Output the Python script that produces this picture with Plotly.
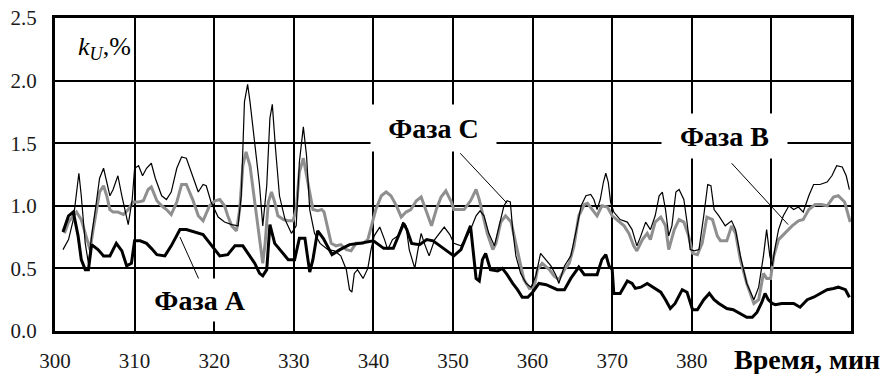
import plotly.graph_objects as go

# Time axis (minutes) and voltage unbalance factor k_U (%) for each phase
t_a = [301.0, 301.7, 302.3, 302.9, 303.3, 303.8, 304.2, 304.6, 305.4, 306.1, 306.9, 307.7, 308.4, 309.0,
       309.6, 310.0, 310.7, 311.5, 312.1, 312.8, 313.8, 314.6, 315.7, 316.5, 318.6, 320.1, 320.7, 321.7,
       322.6, 323.6, 324.5, 325.1, 325.7, 326.1, 326.6, 327.0, 327.6, 328.4, 329.3, 330.1, 330.7, 331.4,
       332.0, 332.4, 333.0, 333.7, 334.8, 335.8, 337.0, 338.3, 340.0, 341.3, 342.5, 343.8, 344.2, 344.8,
       345.8, 346.7, 347.5, 348.8, 350.1, 351.0, 351.8, 352.2, 352.9, 353.3, 353.7, 354.1, 354.7, 355.6,
       356.2, 356.8, 357.5, 358.1, 358.7, 359.4, 360.0, 360.8, 361.7, 362.5, 363.1, 364.0, 364.8, 365.8,
       366.5, 367.3, 368.1, 368.7, 369.2, 369.6, 370.0, 370.2, 371.0, 371.9, 372.5, 372.9, 373.6, 374.4,
       375.2, 376.1, 376.7, 377.3, 377.9, 378.8, 379.4, 380.1, 380.7, 381.5, 382.2, 382.8, 383.4, 384.4,
       385.2, 386.1, 386.9, 387.6, 388.2, 388.8, 389.2, 389.6, 390.1, 390.5, 391.3, 392.0, 392.8, 393.6,
       394.5, 395.3, 396.1, 397.0, 397.8, 398.4, 399.3, 399.8]
k_a = [0.79, 0.92, 0.95, 0.76, 0.57, 0.49, 0.49, 0.69, 0.65, 0.60, 0.60, 0.70, 0.64, 0.52,
       0.54, 0.72, 0.72, 0.70, 0.66, 0.61, 0.60, 0.68, 0.81, 0.81, 0.77, 0.65, 0.60, 0.61,
       0.68, 0.68, 0.60, 0.54, 0.46, 0.44, 0.49, 0.85, 0.70, 0.64, 0.57, 0.57, 0.74, 0.74,
       0.47, 0.57, 0.80, 0.74, 0.61, 0.65, 0.69, 0.70, 0.72, 0.66, 0.66, 0.86, 0.81, 0.70,
       0.69, 0.73, 0.72, 0.66, 0.60, 0.65, 0.78, 0.84, 0.42, 0.40, 0.57, 0.62, 0.49, 0.48,
       0.50, 0.45, 0.38, 0.33, 0.27, 0.27, 0.31, 0.38, 0.37, 0.35, 0.33, 0.33, 0.42, 0.51,
       0.45, 0.45, 0.45, 0.57, 0.61, 0.52, 0.49, 0.30, 0.30, 0.40, 0.38, 0.34, 0.35, 0.38,
       0.35, 0.31, 0.25, 0.18, 0.22, 0.33, 0.31, 0.17, 0.17, 0.25, 0.30, 0.25, 0.22, 0.18,
       0.17, 0.14, 0.11, 0.11, 0.15, 0.23, 0.30, 0.25, 0.22, 0.21, 0.22, 0.22, 0.22, 0.19,
       0.25, 0.27, 0.30, 0.33, 0.34, 0.35, 0.33, 0.27]

t_b = [301.2, 301.7, 302.3, 302.7, 303.3, 304.0, 304.4, 304.8, 305.2, 305.6, 306.1, 306.5, 306.9, 307.3,
       307.9, 308.6, 309.2, 309.8, 310.5, 311.1, 311.7, 312.1, 312.8, 313.4, 314.0, 314.6, 315.3, 315.9,
       316.5, 317.3, 318.0, 318.6, 319.4, 320.1, 320.7, 321.3, 321.7, 322.2, 322.8, 323.2, 323.6, 324.0,
       324.5, 325.1, 325.7, 326.1, 326.4, 326.8, 327.2, 327.6, 328.0, 328.7, 329.3, 329.9, 330.3, 330.7,
       331.2, 331.6, 332.0, 332.4, 333.0, 333.5, 333.8, 334.3, 334.7, 335.3, 335.9, 336.6, 337.2, 337.8,
       338.7, 339.3, 339.9, 340.3, 341.0, 341.6, 342.2, 342.9, 343.5, 344.1, 344.7, 345.4, 346.0, 346.6,
       347.3, 347.9, 348.5, 349.1, 349.8, 350.1, 351.4, 352.2, 352.9, 353.3, 353.7, 354.3, 355.0, 355.4,
       356.0, 356.6, 357.3, 357.7, 358.3, 358.9, 359.6, 360.2, 360.6, 361.2, 362.1, 362.7, 363.3, 364.0,
       364.6, 365.2, 365.8, 366.5, 366.9, 367.5, 368.1, 368.7, 369.4, 370.0, 370.6, 371.5, 372.1, 372.7,
       373.1, 373.8, 374.4, 374.8, 375.4, 376.1, 376.7, 377.1, 377.8, 378.4, 379.0, 379.6, 380.1, 380.7,
       381.3, 381.9, 382.6, 383.2, 383.6, 384.4, 385.0, 385.5, 386.1, 386.9, 387.8, 388.4, 389.0, 389.4,
       389.9, 390.3, 390.9, 391.7, 392.6, 393.4, 394.0, 394.7, 395.5, 396.3, 397.0, 397.8, 398.4, 399.2,
       399.7, 399.9]
k_b = [0.78, 0.87, 0.92, 0.95, 0.89, 0.73, 0.65, 0.81, 0.97, 1.11, 1.16, 1.08, 0.97, 0.95,
       0.95, 0.93, 0.97, 1.03, 1.03, 1.04, 1.13, 1.15, 1.04, 1.00, 0.97, 0.93, 1.03, 1.17,
       1.17, 1.05, 0.92, 0.88, 1.00, 1.04, 1.05, 1.00, 0.92, 0.84, 0.80, 0.97, 1.32, 1.43,
       1.32, 1.03, 0.76, 0.54, 0.70, 1.03, 1.11, 1.03, 0.92, 0.89, 0.88, 0.88, 0.97, 1.27,
       1.38, 1.24, 1.08, 0.97, 0.96, 0.97, 0.95, 0.81, 0.70, 0.68, 0.69, 0.65, 0.64, 0.70,
       0.70, 0.73, 0.87, 0.97, 1.08, 1.11, 1.08, 1.00, 0.91, 0.95, 0.97, 1.04, 1.07, 0.97,
       0.84, 0.97, 1.07, 1.12, 1.03, 0.97, 0.97, 1.04, 1.13, 1.05, 0.95, 0.78, 0.65, 0.70,
       0.87, 0.92, 0.87, 0.76, 0.57, 0.41, 0.34, 0.35, 0.49, 0.54, 0.49, 0.44, 0.41, 0.49,
       0.54, 0.68, 0.92, 1.01, 1.02, 0.97, 0.92, 1.00, 0.99, 0.92, 0.89, 0.84, 0.78, 0.68,
       0.64, 0.73, 0.78, 0.73, 0.87, 0.91, 0.84, 0.65, 0.81, 0.89, 0.87, 0.76, 0.62, 0.61,
       0.70, 0.91, 0.89, 0.76, 0.72, 0.72, 0.84, 0.78, 0.57, 0.38, 0.22, 0.25, 0.46, 0.42,
       0.42, 0.60, 0.73, 0.78, 0.84, 0.88, 0.89, 0.97, 1.01, 1.01, 1.00, 1.07, 1.08, 1.03,
       0.92, 0.87]

t_c = [301.0, 301.7, 302.3, 302.7, 303.0, 303.3, 303.8, 304.2, 304.6, 305.2, 305.6, 306.1, 306.5, 306.9,
       307.3, 307.9, 308.4, 308.8, 309.2, 309.7, 310.0, 310.5, 311.0, 311.5, 312.1, 312.6, 313.4, 314.0,
       314.6, 315.3, 315.9, 316.5, 317.3, 318.0, 318.6, 319.0, 319.6, 320.5, 321.3, 322.2, 323.0, 323.4,
       323.8, 324.2, 324.5, 325.1, 325.7, 326.1, 326.6, 327.0, 327.3, 327.7, 328.2, 328.9, 329.7, 330.3,
       330.7, 331.2, 331.6, 332.0, 332.6, 333.3, 334.3, 335.1, 335.9, 336.6, 337.0, 337.3, 337.6, 338.0,
       338.7, 339.3, 339.7, 340.1, 340.8, 341.4, 341.8, 342.4, 343.1, 343.7, 344.1, 344.5, 345.2, 345.6,
       346.0, 346.4, 347.0, 347.7, 348.3, 348.9, 349.6, 350.1, 351.0, 351.8, 352.4, 352.9, 353.4, 353.9,
       354.5, 355.2, 355.8, 356.4, 356.8, 357.2, 357.5, 357.9, 358.5, 359.2, 359.8, 360.4, 361.0, 361.7,
       362.3, 362.9, 363.3, 364.0, 364.8, 365.4, 366.1, 366.7, 367.3, 367.7, 368.1, 368.5, 368.9, 369.2,
       369.5, 369.8, 370.2, 371.0, 371.9, 372.5, 373.1, 373.6, 374.2, 374.8, 375.4, 375.9, 376.3, 376.7,
       377.1, 377.5, 378.0, 378.4, 379.0, 379.4, 379.8, 380.3, 380.9, 381.5, 382.0, 382.4, 382.8, 383.4,
       384.2, 385.0, 385.5, 386.1, 386.9, 387.8, 388.4, 389.0, 389.4, 389.8, 390.1, 390.5, 390.9, 391.5,
       392.2, 392.8, 393.4, 394.0, 394.7, 395.3, 396.1, 397.0, 397.6, 398.2, 398.9, 399.4, 399.8]
k_c = [0.65, 0.73, 0.89, 1.08, 1.26, 1.08, 0.70, 0.54, 0.76, 1.03, 1.22, 1.30, 1.19, 1.08,
       1.13, 1.24, 1.08, 0.95, 0.85, 1.05, 1.30, 1.32, 1.24, 1.30, 1.34, 1.22, 1.08, 1.05,
       1.11, 1.30, 1.39, 1.38, 1.24, 1.11, 1.17, 1.16, 1.03, 0.91, 0.87, 0.85, 0.84, 1.08,
       1.83, 1.97, 1.83, 1.48, 1.16, 0.84, 1.16, 1.70, 1.81, 1.46, 1.08, 0.89, 0.78, 0.84,
       1.35, 1.63, 1.40, 0.97, 0.78, 0.70, 0.65, 0.64, 0.60, 0.49, 0.33, 0.31, 0.46, 0.49,
       0.42, 0.50, 0.65, 0.76, 0.83, 0.73, 0.65, 0.73, 0.76, 0.87, 0.84, 0.65, 0.50, 0.65,
       0.78, 0.70, 0.60, 0.73, 0.78, 0.83, 0.77, 0.70, 0.68, 0.76, 0.84, 0.92, 0.96, 0.92,
       0.78, 0.68, 0.84, 1.00, 1.04, 1.03, 0.81, 0.60, 0.46, 0.38, 0.35, 0.44, 0.62, 0.57,
       0.52, 0.45, 0.38, 0.52, 0.60, 0.78, 1.00, 1.08, 1.09, 1.05, 0.97, 1.05, 1.19, 1.26,
       1.19, 1.03, 0.95, 0.89, 0.87, 0.81, 0.68, 0.76, 0.87, 0.81, 0.92, 1.08, 1.11, 0.97,
       0.76, 0.84, 1.11, 1.13, 1.05, 0.87, 0.65, 0.64, 0.65, 0.92, 1.17, 1.16, 0.97, 0.92,
       0.84, 0.88, 0.81, 0.60, 0.38, 0.25, 0.35, 0.60, 0.81, 0.60, 0.52, 0.68, 0.81, 0.92,
       1.00, 0.97, 0.99, 0.95, 1.08, 1.17, 1.17, 1.19, 1.24, 1.32, 1.31, 1.24, 1.13]

x_ticks = [300, 310, 320, 330, 340, 350, 360, 370, 380]
x_tick_text = ["300", "310", "320", "330", "340", "350", "360", "370", "380"]
x_unlabelled_grid = [390]
y_ticks = [0.0, 0.5, 1.0, 1.5, 2.0, 2.5]
y_tick_text = ["0.0", "0.5", "1.0", "1.5", "2.0", "2.5"]

SERIF = "Liberation Serif"
GRID = dict(gridcolor="#000000", gridwidth=1.5)

fig = go.Figure()
fig.add_trace(go.Scatter(x=t_b, y=k_b, mode="lines", name="Фаза B",
                         line=dict(color="#8f8f8f", width=3)))
fig.add_trace(go.Scatter(x=t_c, y=k_c, mode="lines", name="Фаза C",
                         line=dict(color="#000000", width=1.2)))
fig.add_trace(go.Scatter(x=t_a, y=k_a, mode="lines", name="Фаза A",
                         line=dict(color="#000000", width=3)))

axis_common = dict(showgrid=True, showline=True, mirror=True, linecolor="#000000", linewidth=3,
                   ticks="", zeroline=False, automargin=False,
                   tickfont=dict(family=SERIF, size=21, color="#1a1a1a"), **GRID)

fig.update_xaxes(range=[300, 400], tickvals=x_ticks, ticktext=x_tick_text,
                 ticklabelstandoff=9,
                 minor=dict(tickvals=x_unlabelled_grid, showgrid=True, ticks="", **GRID),
                 **axis_common)
fig.update_yaxes(range=[0, 2.5], tickvals=y_ticks, ticktext=y_tick_text,
                 ticklabelstandoff=11, **axis_common)

# Phase labels on white boxes, each with a thin leader to its curve
labels = [
    dict(text="<b>Фаза A</b>", x=318.2, y=0.245, w=118, h=42),
    dict(text="<b>Фаза C</b>", x=347.5, y=1.618, w=125, h=46),
    dict(text="<b>Фаза B</b>", x=384.1, y=1.554, w=125, h=44),
]
for lab in labels:
    fig.add_annotation(x=lab["x"], y=lab["y"], xref="x", yref="y", text=lab["text"],
                       showarrow=False, bgcolor="#ffffff", borderpad=0,
                       width=lab["w"], height=lab["h"],
                       font=dict(family=SERIF, size=28, color="#000000"))

leaders = [
    ((315.7, 0.75), (318.1, 0.41)),
    ((350.9, 1.42), (356.8, 1.02)),
    ((385.0, 1.34), (392.1, 0.85)),
]
for (x0, y0), (x1, y1) in leaders:
    fig.add_shape(type="line", xref="x", yref="y", x0=x0, y0=y0, x1=x1, y1=y1,
                  line=dict(color="#000000", width=1))

# Axis titles
fig.add_annotation(x=302.7, y=2.26, xref="x", yref="y", xanchor="left", yanchor="middle",
                   text="<i>k</i><sub><i>U</i></sub>,%", showarrow=False,
                   font=dict(family=SERIF, size=26, color="#000000"))
fig.add_annotation(x=1.039, y=-0.09, xref="paper", yref="paper", xanchor="right", yanchor="middle",
                   text="<b>Время, мин</b>", showarrow=False,
                   font=dict(family=SERIF, size=28, color="#000000"))

fig.update_layout(width=885, height=374, margin=dict(l=55, r=34, t=18, b=43),
                  plot_bgcolor="#ffffff", paper_bgcolor="#ffffff", showlegend=False)

fig.write_html("out.html")
